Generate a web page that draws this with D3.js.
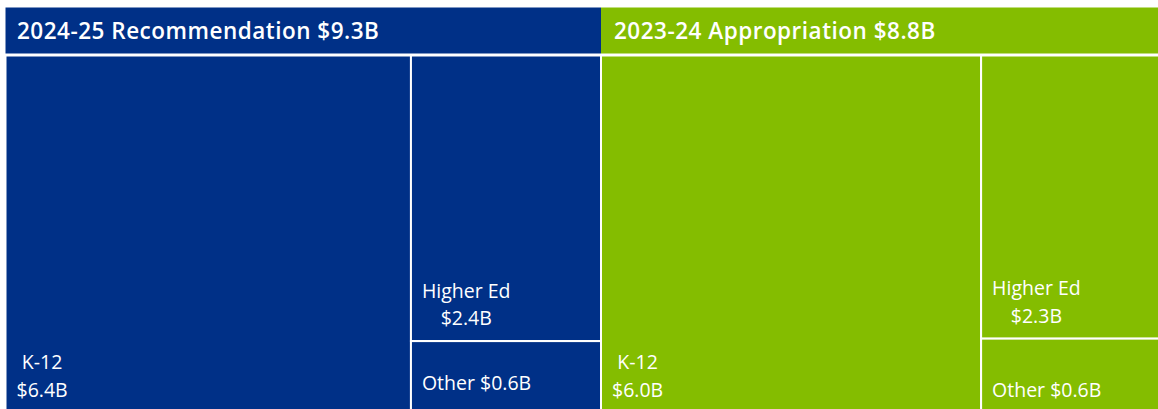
<!DOCTYPE html>
<html>
<head>
<meta charset="utf-8">
<script src="https://cdn.jsdelivr.net/npm/d3@7"></script>
<style>
	html, body { margin: 0; padding: 0; background: #ffffff; overflow: hidden; }
	svg { display: block; }
	text { font-family: 'Open Sans', sans-serif; fill: #ffffff; }
</style>
</head>
<body>
<div id="chart"></div>
<script>
'use strict';

// values in $ billions
var panelTitles = ['2024-25 Recommendation', '2023-24 Appropriation'];
var panelTotals = [9.3, 8.8];
var categories = ['K-12', 'Higher Ed', 'Other'];
var recommendValues = [6.4, 2.4, 0.6];
var appropValues = [6.0, 2.3, 0.6];
var panelColors = ['#003087', '#84bd00'];

var width = 1158,
		height = 409;
var margin = { left: 5.5, top: 7.5 };
var headerH = 46,
		gap = 2,
		bodyH = 357;

function money (v)	{
	return '$' + d3.format('.1f')(v) + 'B';
};

function makeTree (values)	{
	return d3.hierarchy({
		children: [
			{ name: categories[0], value: values[0] },
			{ children: [
				{ name: categories[1], value: values[1] },
				{ name: categories[2], value: values[2] }
			] }
		]
	}).sum(function (d) { return d.value || 0; });
};

function labelLines (d)	{
	var name = d.data.name,
			v = money(d.data.value);
	return name === 'Other' ? [name + ' ' + v] : [name, v];
};

var series = [recommendValues, appropValues];

// one px scale shared by both panels
var x = d3.scaleLinear()
					.domain([0, d3.sum(recommendValues)])
					.range([0, 601 - margin.left]);

var svg = d3.select('#chart').append('svg')
						.attr('width', width)
						.attr('height', height);

var offset = margin.left;

series.forEach(function (values, p)	{
	var w = x(d3.sum(values)),
			root = makeTree(values);

	d3.treemap()
		.tile(d3.treemapSliceDice)
		.size([w, bodyH])
		.round(false)(root);

	var g = svg.append('g')
						 .attr('class', 'panel')
						 .attr('transform', 'translate(' + offset + ',' + margin.top + ')');

	g.append('rect')
	 .attr('x', 0)
	 .attr('y', 0)
	 .attr('width', w)
	 .attr('height', headerH)
	 .style('fill', panelColors[p]);

	g.append('text')
	 .attr('x', p === 0 ? 11.5 : 13)
	 .attr('y', headerH / 2 + 8)
	 .style('font-size', '22.5px')
	 .style('font-weight', 600)
	 .style('letter-spacing', '0.5px')
	 .text(panelTitles[p] + ' ' + money(panelTotals[p]));

	var body = g.append('g')
							.attr('transform', 'translate(0,' + (headerH + gap) + ')');

	var cells = body.selectAll('g.cell')
									.data(root.leaves())
									.enter().append('g')
									.attr('class', 'cell');

	cells.append('rect')
			 .attr('x', function (d) { return d.x0; })
			 .attr('y', function (d) { return d.y0; })
			 .attr('width', function (d) { return d.x1 - d.x0; })
			 .attr('height', function (d) { return d.y1 - d.y0; })
			 .style('fill', panelColors[p])
			 .style('stroke', '#ffffff')
			 .style('stroke-width', 2);

	cells.each(function (d)	{
		var lines = labelLines(d),
				cell = d3.select(this),
				lift = (p === 0 && d.data.name === 'Other') ? 7 : 0;

		var t = cell.selectAll('text.lbl')
								.data(lines)
								.enter().append('text')
								.attr('class', 'lbl')
								.style('font-size', '19.5px')
								.attr('text-anchor', 'middle')
								.attr('y', function (s, i)	{
									return d.y1 - 16 - lift - (lines.length - 1 - i) * 27.5;
								})
								.text(function (s) { return s; });

		var maxW = 0;
		t.each(function () {
			maxW = Math.max(maxW, this.getComputedTextLength());
		});
		t.attr('x', d.x0 + 11 + maxW / 2);
	});

	offset += w;
});
</script>
</body>
</html>
